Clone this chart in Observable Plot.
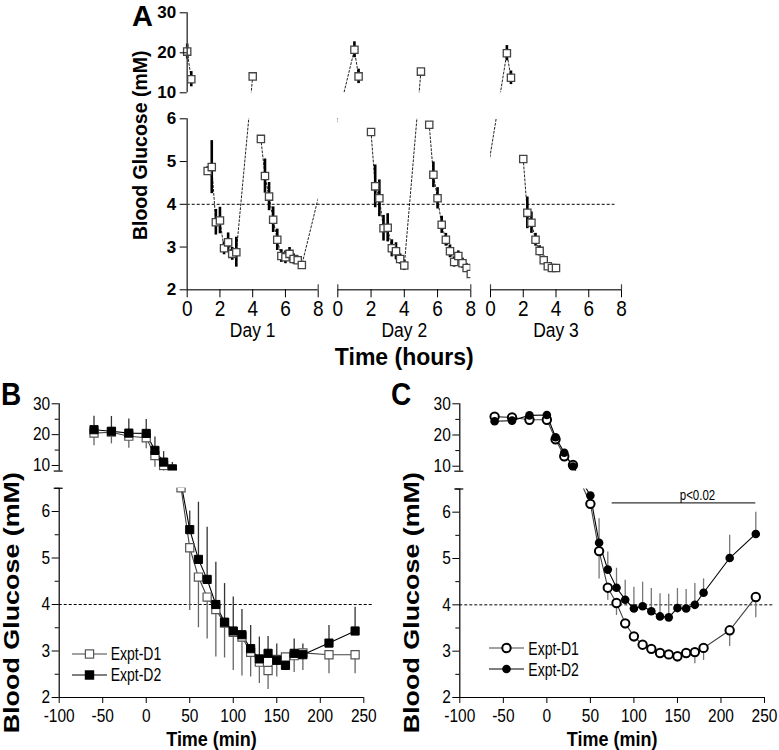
<!DOCTYPE html>
<html><head><meta charset="utf-8">
<script src="https://cdn.jsdelivr.net/npm/d3@7"></script>
<script src="https://cdn.jsdelivr.net/npm/@observablehq/plot@0.6"></script>
<style>
html,body{margin:0;padding:0;background:#fff;}
#root{position:relative;width:779px;height:750px;overflow:hidden;background:#fff;}
.lbl{position:absolute;white-space:nowrap;line-height:1.15;color:#000;}
.leg{position:absolute;}
</style></head>
<body><div id="root"></div>
<script>
// ---------------- Panel A data (day, hour of day, glucose mM, error, connected run) ----------------
const aDay = [1,1, 1,1,1,1,1,1,1,1,1, 1,1,1,1,1,1,1,1,1,1,1,2,2, 2,2,2,2,2,2,2,2,2,2, 2,2,2,2,2,2,2,2,2,2,2,3,3, 3,3,3,3,3,3,3,3,3];
const aHour = [0,0.25, 1.25,1.5,1.75,2,2.25,2.5,2.75,3,4, 4.5,4.75,5,5.25,5.5,5.75,6,6.25,6.5,6.75,7,1,1.25, 2,2.25,2.5,2.75,3,3.25,3.5,3.75,4,5, 5.5,5.75,6,6.25,6.5,6.75,7,7.25,7.5,7.75,8,1,1.25, 2,2.25,2.5,2.75,3,3.25,3.5,3.75,4];
const aGlucose = [20.3,13.4, 4.78,4.87,3.58,3.62,2.97,3.11,2.84,2.88,14.1, 5.53,4.66,4.18,3.64,3.17,2.79,2.76,2.84,2.72,2.69,2.58,20.75,14.1, 5.69,4.42,4.14,3.44,3.45,2.97,2.9,2.72,2.57,15.3, 5.86,4.69,4.14,3.52,3.17,2.9,2.65,2.79,2.62,2.51,2.37,19.9,13.75, 5.06,3.8,3.57,3.17,2.91,2.69,2.55,2.51,2.51];
const aErr = [1.9,1.9, 0.1,0.62,0.3,0.31,0.15,0.22,0.15,0.35,0, 0.05,0.4,0.33,0.3,0.25,0.15,0.15,0.15,0.12,0.1,0.08,2,1.8, 0.05,0.5,0.43,0.3,0.33,0.2,0.2,0.12,0.12,0, 0.05,0.3,0.25,0.2,0.15,0.15,0.12,0.12,0.12,0.1,0.1,1.9,1.7, 0.05,0.37,0.25,0.15,0.12,0.1,0.08,0.06,0.06];
const aRun = [1,1, 2,2,2,2,2,2,2,2,2, 3,3,3,3,3,3,3,3,3,3,3,3,3, 4,4,4,4,4,4,4,4,4,4, 5,5,5,5,5,5,5,5,5,5,5,5,5, 6,6,6,6,6,6,6,6,6];
const aDayLabels = ["Day 1","Day 2","Day 3"];
const aYTicks = [2,3,4,5,6,10,20,30];
const aXTickHours = [0,2,4,6,8];
const hypoLevel = 4;

// ---------------- Panel B data ----------------
const bTime = [-60,-40,-20,0,10,20,30,40,50,60,70,80,90,100,110,120,130,140,150,160,170,180,210,240];
const bD1 = [20.5,20.8,19.5,19.0,13.2,10.0,8.7,6.55,5.22,4.59,4.16,3.89,3.6,3.4,3.3,2.97,2.76,2.58,2.82,2.87,2.9,2.96,2.92,2.92];
const bD1Err = [4.1,3.8,3.9,3.6,3.8,1.9,1.5,0,1.35,1.09,0.9,1.02,0.75,0.82,0.84,0.53,0.46,0.41,0.38,0.29,0.36,0.38,0.41,0.41];
const bD2 = [21.6,21.1,20.5,20.4,14.9,11.1,8.9,7.0,5.61,4.97,4.54,4.0,3.62,3.43,3.35,3.05,2.83,2.95,2.8,2.69,2.95,2.92,3.17,3.43];
const bD2Err = [4.4,4.8,4.6,4.5,4.3,3.4,2.1,0,0.4,1.23,1.12,0.91,0.83,0.73,0.54,0.5,0.47,0.36,0.35,0.2,0.31,0.23,0.38,0.51];

// ---------------- Panel C data ----------------
const cTime = [-60,-40,-20,0,10,20,30,50,60,70,80,90,100,110,120,130,140,150,160,170,180,210,240];
const cD1 = [25.9,25.6,24.9,24.9,18.6,13.2,10.4,6.18,5.16,4.37,4.04,3.6,3.32,3.14,3.05,2.96,2.93,2.89,2.96,2.98,3.07,3.45,4.17];
const cD1Err = [0,0,0,0,0,0,0,0,0.6,0.27,0.27,0.12,0.13,0.09,0.11,0.09,0.09,0.13,0.1,0.25,0.27,0.35,0.45];
const cD2 = [24.4,24.6,26.3,26.4,19.3,14.3,9.9,6.36,5.34,4.76,4.37,4.11,3.92,3.97,3.86,3.75,3.73,3.93,3.92,4.0,4.26,5.01,5.53];
const cD2Err = [0,0,0,0,0,0,0,0,0.52,0.38,0.42,0.42,0.46,0.52,0.49,0.49,0.5,0.42,0.41,0.46,0.3,0.49,0.47];
const cSig = {from: 75, to: 240, y: 6.2, labelX: 173, label: "p<0.02"};

const bcYMajor = [2,3,4,5,6,10,20,30];
const bcYMinor = [2.5,3.5,4.5,5.5,6.5,15,25];
const bcXTicks = [-100,-50,0,50,100,150,200,250];
const seriesNames = ["Expt-D1","Expt-D2"];

// ---------------- rendering ----------------
const W = 779, H = 750;
const SANS = '"Liberation Sans",Arial,Helvetica,sans-serif';
const svgStyle = {position:"absolute", left:"0px", top:"0px", background:"none", overflow:"visible", fontFamily: SANS};
const root = document.getElementById("root");

// the source figure's lettering is vertically stretched; reproduce that on the text elements
function stretchTexts(svg, factorFor) {
  svg.querySelectorAll("text").forEach(t => {
    const g = t.closest("[font-size]");
    const s = factorFor(g ? g.getAttribute("font-size") : null);
    if (!s || s === 1) return;
    let tr = t.getAttribute("transform") || "";
    const xa = t.getAttribute("x"), ya = t.getAttribute("y");
    if (xa && !/em/.test(xa)) { tr += ` translate(${xa},0)`; t.removeAttribute("x"); }
    if (ya && !/em/.test(ya)) { tr += ` translate(0,${ya})`; t.removeAttribute("y"); }
    const rotated = /rotate\(\s*-?90/.test(tr);
    t.setAttribute("transform", tr + (rotated ? ` scale(${s},1)` : ` scale(1,${s})`));
  });
}

// Panel A
const aRows = aDay.map((d,i) => ({t:(d-1)*10 + aHour[i], g:aGlucose[i], e:aErr[i], run:aRun[i]}));
const aXTicks = [0,10,20].flatMap(o => aXTickHours.map(h => o + h));
const aYSeg = [{lo:2,hi:6},{lo:10,hi:30}];
const aXSeg = [0,10,20].map(o => ({lo:o, hi:o+8}));
const aCaps = [8,10,18,20,28];
const plotA = Plot.plot({
  width: W, height: H,
  marginLeft: 186.7, marginRight: W - 621, marginTop: 12.3, marginBottom: H - 289.3,
  style: svgStyle,
  x: {type:"linear", domain:[0,8,10,18,20,28], range:[186.7,317.7,337.3,470.3,490,621]},
  y: {type:"linear", domain:[2,6,10,30], range:[289.3,118.3,92.3,12.3]},
  marks: [
    Plot.line(aRows, {x:"t", y:"g", z:"run", stroke:"#222", strokeWidth:1, strokeDasharray:"2,2"}),
    Plot.ruleX(aRows, {x:"t", y1:d=>d.g-d.e, y2:d=>d.g+d.e, stroke:"#000", strokeWidth:2.6}),
    Plot.dot(aRows, {x:"t", y:"g", symbol:"square", r:4.1, fill:"#fff", stroke:"#444", strokeWidth:1.3}),
    Plot.rect([0], {x1:0, x2:28, y1:6, y2:10, fill:"#fff"}),
    Plot.rect([8,18], {x1:d=>d, x2:d=>d+2, y1:2, y2:30, fill:"#fff"}),
    Plot.ruleY([hypoLevel], {x1:0, x2:27.6, stroke:"#000", strokeWidth:1, strokeDasharray:"3,2"}),
    Plot.ruleX(aYSeg, {x:0, y1:"lo", y2:"hi", stroke:"#444", strokeWidth:1.5}),
    Plot.ruleY(aXSeg, {y:2, x1:"lo", x2:"hi", stroke:"#444", strokeWidth:1.5}),
    Plot.ruleX(aCaps, {x:d=>d, y1:2, y2:2, insetTop:-5, stroke:"#444", strokeWidth:1.2}),
    Plot.axisY({ticks:aYTicks, tickFormat:d=>String(d), tickSize:7, tickPadding:4, fontSize:17, fontWeight:"bold", label:null}),
    Plot.axisX({ticks:aXTicks, tickFormat:d=>String(Math.round(d)%10), tickSize:8, tickPadding:2, fontSize:19, label:null}),
    Plot.text(aDayLabels, {x:(d,i)=>i*10+4, frameAnchor:"bottom", lineAnchor:"bottom", dy:47.5, fontSize:17.5}),
    Plot.text(["Time (hours)"], {x:[14], frameAnchor:"bottom", lineAnchor:"bottom", dy:75, fontSize:23, fontWeight:"bold"}),
    Plot.text(["Blood Glucose (mM)"], {frameAnchor:"left", textAnchor:"middle", rotate:-90, dx:-40, dy:-6, lineAnchor:"bottom", fontSize:19.5, fontWeight:"bold"})
  ]
});
stretchTexts(plotA, fs => (fs === "19" || fs === "17.5") ? 1.2 : 1);
root.appendChild(plotA);

function brokenPanel({left, right, yDomain, yRange, rows, symbol, d1Style, d2Style, barColor, titleDx, extra}) {
  const p = Plot.plot({
    width: W, height: H,
    marginLeft: left, marginRight: W - right, marginTop: 403.3, marginBottom: H - 697,
    style: svgStyle,
    x: {type:"linear", domain:[-100,250], range:[left,right]},
    y: {type:"linear", domain:yDomain, range:yRange},
    marks: [
      Plot.ruleY([hypoLevel], {x1:-100, x2:260, stroke:"#000", strokeWidth:1, strokeDasharray:"3,2"}),
      Plot.ruleX(rows, {x:"t", y1:"d1", y2:d=>d.d1-d.d1e, stroke:barColor[0], strokeWidth:1.3}),
      Plot.ruleX(rows, {x:"t", y1:"d2", y2:d=>d.d2+d.d2e, stroke:barColor[1], strokeWidth:1.3}),
      Plot.line(rows, {x:"t", y:"d1", stroke:"#444", strokeWidth:1.1}),
      Plot.line(rows, {x:"t", y:"d2", stroke:"#000", strokeWidth:1.1}),
      Plot.dot(rows, {x:"t", y:"d1", symbol, ...d1Style}),
      Plot.dot(rows, {x:"t", y:"d2", symbol, ...d2Style}),
      Plot.rect([0], {x1:-100, x2:260, y1:yDomain[1], y2:yDomain[2], fill:"#fff"}),
      Plot.ruleX([{lo:yDomain[0],hi:yDomain[1]},{lo:yDomain[2],hi:yDomain[3]}], {x:-100, y1:"lo", y2:"hi", stroke:"#000", strokeWidth:1.2}),
      Plot.ruleY([yDomain[1], yDomain[2]], {y:d=>d, x1:-100, x2:-100, insetLeft:-5, insetRight:-4, stroke:"#000", strokeWidth:1.2}),
      Plot.ruleY([0], {y:2, x1:-100, x2:250, stroke:"#000", strokeWidth:1.2}),
      Plot.axisY({ticks:bcYMinor, tickFormat:()=>"", tickSize:4, label:null}),
      Plot.axisY({ticks:bcYMajor, tickFormat:d=>String(d), tickSize:7, tickPadding:2, fontSize:15.5, label:null}),
      Plot.axisX({ticks:bcXTicks, tickFormat:d=>String(d), tickSize:6, tickPadding:6, fontSize:15.5, label:null}),
      Plot.text(["Time (min)"], {frameAnchor:"bottom", lineAnchor:"bottom", dy:48, fontSize:18, fontWeight:"bold"}),
      Plot.text(["Blood Glucose (mM)"], {frameAnchor:"left", textAnchor:"middle", rotate:-90, dx:titleDx, dy:52, lineAnchor:"bottom", fontSize:21.5, fontWeight:"bold"}),
      ...(extra || [])
    ]
  });
  stretchTexts(p, fs => fs === "21.5" ? 1.25 : fs === "11.5" ? 1.2 : 1.15);
  return p;
}

const bRows = bTime.map((t,i) => ({t, d1:bD1[i], d1e:bD1Err[i], d2:bD2[i], d2e:bD2Err[i]}));
root.appendChild(brokenPanel({
  left:58.7, right:363.3,
  yDomain:[2,6.5,8.2,30], yRange:[697,487.75,470.55,403.3],
  rows:bRows, symbol:"square", titleDx:-40.5,
  d1Style:{r:4.6, fill:"#fff", stroke:"#555", strokeWidth:1.2},
  d2Style:{r:4.6, fill:"#000", stroke:"#000", strokeWidth:1},
  barColor:["#666","#333"]
}));

const cRows = cTime.map((t,i) => ({t, d1:cD1[i], d1e:cD1Err[i], d2:cD2[i], d2e:cD2Err[i]}));
root.appendChild(brokenPanel({
  left:459.3, right:764,
  yDomain:[2,6.5,8.4,30], yRange:[697,488.5,470.7,403.3],
  rows:cRows, symbol:"circle", titleDx:-41,
  d1Style:{r:4.2, fill:"#fff", stroke:"#000", strokeWidth:2},
  d2Style:{r:4.3, fill:"#000", stroke:"none"},
  barColor:["#777","#777"],
  extra:[
    Plot.ruleY([cSig], {y:"y", x1:"from", x2:"to", stroke:"#333", strokeWidth:1.2}),
    Plot.text([cSig], {x:"labelX", y:"y", text:"label", dy:-3, lineAnchor:"bottom", fontSize:11.5})
  ]
}));

// ---------------- HTML labels and legends ----------------
// line-height 1.15 => baseline sits 0.9215*size below the div's top for Liberation Sans
function label(text, left, baseline, size, weight, stretch) {
  const d = document.createElement("div");
  d.className = "lbl";
  d.textContent = text;
  const base = 0.9215*size;
  d.style.left = left + "px";
  d.style.top = (baseline - base) + "px";
  d.style.fontSize = size + "px";
  d.style.fontWeight = weight;
  d.style.fontFamily = SANS;
  if (stretch && stretch !== 1) {
    d.style.transformOrigin = `0px ${base}px`;
    d.style.transform = `scaleY(${stretch})`;
  }
  root.appendChild(d);
}
label("A", 132, 26.5, 29, "bold");
label("B", 1, 406, 28, "bold", 1.1);
label("C", 391, 406, 28, "bold", 1.1);

function legendItem(name, x0, y, kind, filled) {
  const ns = "http://www.w3.org/2000/svg";
  const s = document.createElementNS(ns, "svg");
  s.setAttribute("class","leg");
  s.setAttribute("width", 36); s.setAttribute("height", 14);
  s.style.left = x0 + "px"; s.style.top = (y - 7) + "px";
  const ln = document.createElementNS(ns, "line");
  ln.setAttribute("x1",0); ln.setAttribute("x2",35); ln.setAttribute("y1",7); ln.setAttribute("y2",7);
  ln.setAttribute("stroke", filled ? "#000" : "#444"); ln.setAttribute("stroke-width",1.1);
  s.appendChild(ln);
  let m;
  if (kind === "square") {
    m = document.createElementNS(ns, "rect");
    m.setAttribute("x", 17.5-4.1); m.setAttribute("y", 7-4.1); m.setAttribute("width", 8.2); m.setAttribute("height", 8.2);
    m.setAttribute("fill", filled ? "#000" : "#fff"); m.setAttribute("stroke", filled ? "#000" : "#555"); m.setAttribute("stroke-width", 1.2);
  } else {
    m = document.createElementNS(ns, "circle");
    m.setAttribute("cx", 17.5); m.setAttribute("cy", 7); m.setAttribute("r", filled ? 4.3 : 4.2);
    m.setAttribute("fill", filled ? "#000" : "#fff"); m.setAttribute("stroke", filled ? "none" : "#000"); m.setAttribute("stroke-width", 2);
  }
  s.appendChild(m);
  root.appendChild(s);
  label(name, x0 + 39, y + 6.3, 14, "normal", 1.25);
}
legendItem(seriesNames[0], 71.7, 654, "square", false);
legendItem(seriesNames[1], 71.7, 675, "square", true);
legendItem(seriesNames[0], 489.3, 648.3, "circle", false);
legendItem(seriesNames[1], 489.3, 669.3, "circle", true);
</script>
</body></html>
